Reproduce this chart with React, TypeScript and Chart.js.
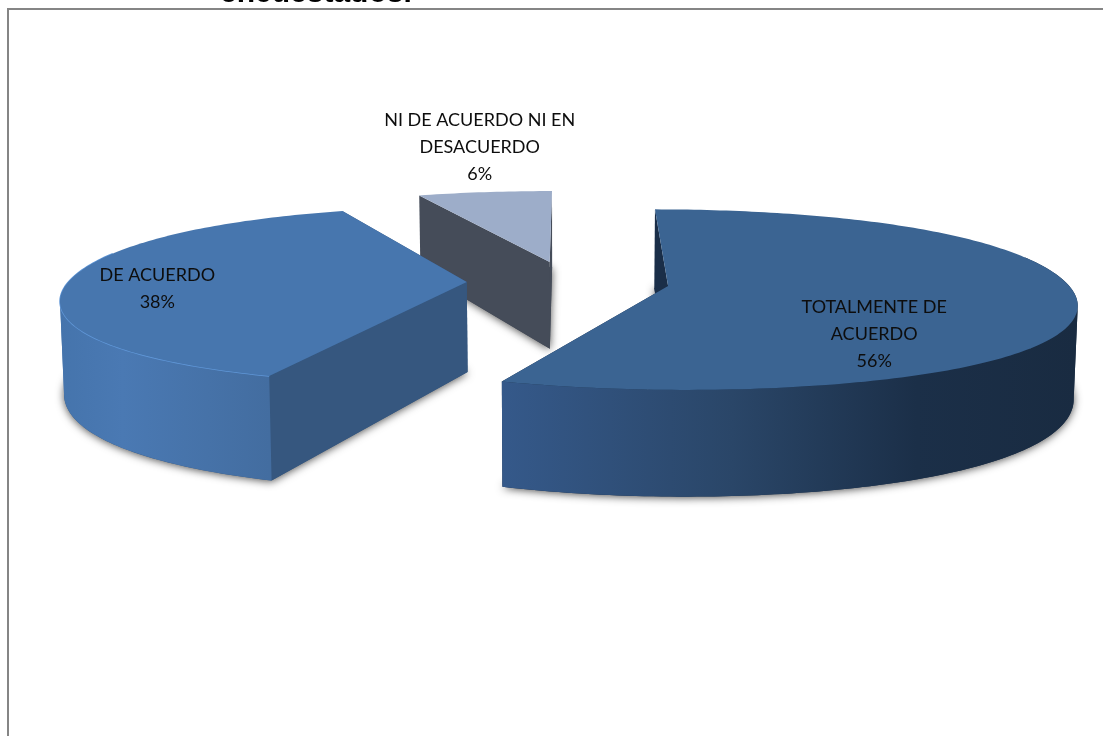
import { useEffect, useRef } from "react";
import { Chart, registerables } from "chart.js";

Chart.register(...registerables);

// Survey answers, in the order the slices run clockwise from twelve o'clock.
const categories = ["TOTALMENTE DE ACUERDO", "DE ACUERDO", "NI DE ACUERDO NI EN DESACUERDO"];
const labelLines = [["TOTALMENTE DE", "ACUERDO"], ["DE ACUERDO"], ["NI DE ACUERDO NI EN", "DESACUERDO"]];
const percentages = [56, 38, 6];
const topColors = ["#3b6492", "#4776ae", "#9dadc9"];
const cutFaceColors = ["#1a2e48", "#36577f", "#454c59"];
const rimStops = [
  [[0, "#35598a"], [0.4, "#2a4668"], [0.72, "#1b2f48"], [1, "#192b41"]],
  [[0, "#4574ac"], [0.3, "#4a79b3"], [1, "#436da0"]],
  [[0, "#454c59"], [1, "#454c59"]],
];
const rimHighlights = [null, "#6097d8", null];
// Where each label sits inside its slice: share of the sweep, share of the radius.
const labelSweep = [0.69, 0.456, 0.667];
const labelRadius = [0.668, 0.768, 1.798];

// Ground plane to page: a simple camera looking down at the tilted pie.
const CENTER_X = 568;
const CENTER_Y = 282;
const SCALE_X = 415;
const SCALE_Y = 87;
const PERSPECTIVE = 0.15;
const HEIGHT = 90;
const BOTTOM_SHRINK = 0.992;
const RIM_WIDEN = 1.03;
const RIM_TAPER = 0.068;
// The wall stays in view slightly past the widest points of the rim.
const WALL_OVERRUN = 0.35;

type Pt = [number, number];

const project = (u: number, v: number): Pt => {
  const w = 1 - PERSPECTIVE * v;
  return [CENTER_X + (SCALE_X * u) / w, CENTER_Y + (SCALE_Y * v) / w];
};

const drop = (u: number, v: number): Pt => {
  const [x, y] = project(u, v);
  const w = 1 - PERSPECTIVE * v;
  return [CENTER_X + (x - CENTER_X) * BOTTOM_SHRINK, y + HEIGHT / w];
};

const tracePath = (ctx: CanvasRenderingContext2D, pts: Pt[]) => {
  ctx.beginPath();
  pts.forEach(([x, y], i) => (i ? ctx.lineTo(x, y) : ctx.moveTo(x, y)));
  ctx.closePath();
};

// Splits a rim run where it turns back on itself horizontally, so each part fills as a plain strip.
const splitAtTurns = (run: Pt[]) => {
  const parts: Pt[][] = [];
  let part: Pt[] = [run[0]];
  let direction = 0;
  for (let i = 1; i < run.length; i++) {
    const step = Math.sign(project(run[i][0], run[i][1])[0] - project(run[i - 1][0], run[i - 1][1])[0]);
    if (direction && step && step !== direction) {
      parts.push(part);
      part = [run[i - 1]];
    }
    if (step) direction = step;
    part.push(run[i]);
  }
  parts.push(part);
  return parts;
};

// One slice's geometry on the plane, from the arc element the pie controller laid out.
const sliceGeometry = (arc: any) => {
  const { startAngle, endAngle, outerRadius } = arc.getProps(["startAngle", "endAngle", "outerRadius"], true);
  const explode = arc.options.offset / outerRadius;
  const mid = (startAngle + endAngle) / 2;
  const apex: Pt = [explode * Math.cos(mid), explode * Math.sin(mid)];
  const at = (a: number, r = 1): Pt => {
    const c = Math.cos(a);
    return [apex[0] + c * RIM_WIDEN * (1 - RIM_TAPER * c * c) * r, apex[1] + Math.sin(a) * r];
  };
  const sweep = (from: number, to: number) => {
    const n = Math.max(2, Math.ceil((to - from) / (Math.PI / 180)));
    return Array.from({ length: n + 1 }, (_, i) => at(from + ((to - from) * i) / n));
  };
  return { startAngle, endAngle, apex, at, sweep };
};

const solidPie = {
  id: "solidPie",
  beforeDraw(chart: any) {
    const { ctx } = chart;
    ctx.save();
    ctx.strokeStyle = "#858585";
    ctx.lineWidth = 2;
    ctx.beginPath();
    ctx.moveTo(8, chart.height + 2);
    ctx.lineTo(8, 9);
    ctx.lineTo(chart.width + 2, 9);
    ctx.stroke();
    ctx.restore();
  },
  beforeDatasetDraw(chart: any, args: any) {
    const { ctx } = chart;
    const arcs = args.meta.data;
    // Far slice first, so the nearer ones paint over it.
    [2, 1, 0].forEach((i) => {
      const g = sliceGeometry(arcs[i]);
      const rim = g.sweep(g.startAngle, g.endAngle);
      const wedge: Pt[] = [g.apex, ...rim];

      // Soft contact shadow below the slice.
      ctx.save();
      ctx.shadowColor = "rgba(0,0,0,0.7)";
      ctx.shadowBlur = 8;
      ctx.shadowOffsetY = 1;
      ctx.fillStyle = cutFaceColors[i];
      tracePath(ctx, wedge.map(([u, v]) => drop(u, v)));
      ctx.fill();
      ctx.restore();

      // Cut faces, farther edge first.
      const ends = [rim[0], rim[rim.length - 1]].sort((a, b) => a[1] - b[1]);
      ends.forEach((end) => {
        ctx.fillStyle = cutFaceColors[i];
        tracePath(ctx, [
          project(g.apex[0], g.apex[1]),
          project(end[0], end[1]),
          drop(end[0], end[1]),
          drop(g.apex[0], g.apex[1]),
        ]);
        ctx.fill();
      });

      // Outer wall: only the stretch of rim that faces the viewer.
      const from = Math.max(g.startAngle, -WALL_OVERRUN);
      const to = Math.min(g.endAngle, Math.PI + WALL_OVERRUN);
      if (to > from) {
        const front = g.sweep(from, to);
        const xs = front.map(([u, v]) => project(u, v)[0]);
        const gradient = ctx.createLinearGradient(Math.min(...xs), 0, Math.max(...xs), 0);
        rimStops[i].forEach(([stop, color]) => gradient.addColorStop(stop as number, color as string));
        ctx.fillStyle = gradient;
        splitAtTurns(front).forEach((part) => {
          const topEdge = part.map(([u, v]) => project(u, v));
          const lowEdge = part.map(([u, v]) => drop(u, v)).reverse();
          tracePath(ctx, [...topEdge, ...lowEdge]);
          ctx.fill();
        });
        const highlight = rimHighlights[i];
        if (highlight) {
          ctx.strokeStyle = highlight;
          ctx.lineWidth = 1.5;
          ctx.beginPath();
          front.forEach(([u, v], k) => {
            const [x, y] = project(u, v);
            if (k) ctx.lineTo(x, y);
            else ctx.moveTo(x, y);
          });
          ctx.stroke();
        }
      }

      // Top face, in the colour the dataset gives this arc.
      ctx.fillStyle = arcs[i].options.backgroundColor;
      tracePath(ctx, wedge.map(([u, v]) => project(u, v)));
      ctx.fill();
    });
    return false;
  },
  afterDatasetsDraw(chart: any) {
    const { ctx } = chart;
    const arcs = chart.getDatasetMeta(0).data;
    ctx.save();
    ctx.textAlign = "center";
    ctx.textBaseline = "middle";
    ctx.fillStyle = "#0d0d0d";
    ctx.font = '18px Lato, "Open Sans", sans-serif';
    arcs.forEach((arc: any, i: number) => {
      const g = sliceGeometry(arc);
      const angle = g.startAngle + (g.endAngle - g.startAngle) * labelSweep[i];
      const [u, v] = g.at(angle, labelRadius[i]);
      const [x, y] = project(u, v);
      const lines = [...labelLines[i], `${chart.data.datasets[0].data[i]}%`];
      lines.forEach((line, k) => {
        ctx.fillText(line, x, y + (k - (lines.length - 1) / 2) * 27);
      });
    });
    // Heading of the sheet; only its last line reaches the top of the page.
    ctx.fillStyle = "#000";
    ctx.textAlign = "left";
    ctx.textBaseline = "alphabetic";
    ctx.font = 'bold 30px "Liberation Sans", Arial, sans-serif';
    ctx.fillText("encuestados.", 220, 2);
    ctx.restore();
  },
};

export default function App() {
  const ref = useRef<HTMLCanvasElement | null>(null);

  useEffect(() => {
    document.body.style.margin = "0";
    const chart = new Chart(ref.current as HTMLCanvasElement, {
      type: "pie",
      data: {
        labels: categories,
        datasets: [
          {
            data: percentages,
            backgroundColor: topColors,
            borderWidth: 0,
            offset: 80,
          },
        ],
      },
      options: {
        responsive: false,
        animation: false,
        plugins: {
          legend: { display: false },
          title: { display: false },
          tooltip: { enabled: false },
        },
      },
      plugins: [solidPie],
    } as any);
    return () => chart.destroy();
  }, []);

  return <canvas ref={ref} width={1103} height={736} style={{ display: "block" }} />;
}
